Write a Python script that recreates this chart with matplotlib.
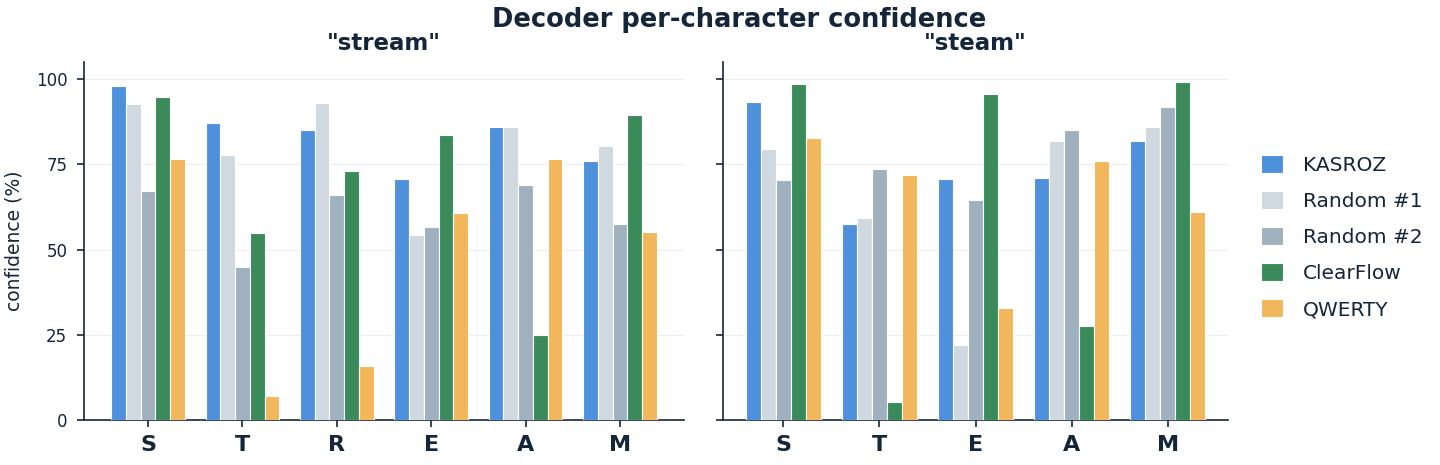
import matplotlib
matplotlib.use("Agg")
import matplotlib.pyplot as plt
import numpy as np

# values
series = ["KASROZ", "Random #1", "Random #2", "ClearFlow", "QWERTY"]
colors = ["#4f90dd", "#d0d8e0", "#9fb0bf", "#3a8a5a", "#f2b75a"]

stream_chars = ["S", "T", "R", "E", "A", "M"]
stream_kasroz = [98.1, 87.0, 85.2, 70.6, 85.8, 76.0]
stream_rand1 = [92.7, 77.6, 92.9, 54.3, 85.8, 80.4]
stream_rand2 = [67.2, 44.8, 65.9, 56.6, 68.9, 57.4]
stream_clearflow = [94.6, 54.9, 73.0, 83.7, 24.9, 89.5]
stream_qwerty = [76.6, 7.0, 15.8, 60.7, 76.6, 55.0]

steam_chars = ["S", "T", "E", "A", "M"]
steam_kasroz = [93.3, 57.5, 70.8, 71.0, 81.9]
steam_rand1 = [79.4, 59.2, 21.9, 81.9, 85.8]
steam_rand2 = [70.3, 73.7, 64.6, 85.1, 91.7]
steam_clearflow = [98.5, 5.3, 95.6, 27.7, 99.0]
steam_qwerty = [82.6, 71.8, 32.8, 76.0, 61.1]

ink = "#15263a"
plt.rcParams["font.family"] = ["DejaVu Sans"]
plt.rcParams["text.color"] = ink
plt.rcParams["axes.labelcolor"] = ink
plt.rcParams["xtick.color"] = ink
plt.rcParams["ytick.color"] = ink

fig = plt.figure(figsize=(14.4, 4.65), dpi=100)
ax1 = fig.add_axes([84 / 1440, 45 / 465, 600 / 1440, 358 / 465])
ax2 = fig.add_axes([723 / 1440, 45 / 465, 505 / 1440, 358 / 465], sharey=ax1)

bw = 0.156


def draw(ax, chars, data, title):
    x = np.arange(len(chars))
    for i, (vals, c, name) in enumerate(zip(data, colors, series)):
        ax.bar(x + (i - 2) * bw, vals, bw, color=c, edgecolor="white",
               linewidth=0.8, label=name, zorder=3)
    ax.set_xticks(x)
    ax.set_xticklabels(chars, fontsize=16, fontweight="bold")
    ax.set_title(title, fontsize=16.5, fontweight="bold", pad=9)
    ax.set_ylim(0, 105)
    ax.set_yticks([0, 25, 50, 75, 100])
    ax.grid(axis="y", color="#eeeeee", linewidth=0.8, zorder=0)
    for s in ["top", "right"]:
        ax.spines[s].set_visible(False)
    for s in ["left", "bottom"]:
        ax.spines[s].set_color(ink)
        ax.spines[s].set_linewidth(1.2)
    ax.tick_params(axis="y", labelsize=12, length=5, width=1.2, pad=7)
    ax.tick_params(axis="x", labelsize=16, length=5, width=1.2, pad=6)


draw(ax1, stream_chars,
     [stream_kasroz, stream_rand1, stream_rand2, stream_clearflow, stream_qwerty],
     '"stream"')
draw(ax2, steam_chars,
     [steam_kasroz, steam_rand1, steam_rand2, steam_clearflow, steam_qwerty],
     '"steam"')
ax2.tick_params(axis="y", labelleft=False)
ax1.set_ylabel("confidence (%)", fontsize=13.5, labelpad=9)

handles, labels = ax1.get_legend_handles_labels()
fig.legend(handles, labels, loc="center left", bbox_to_anchor=(0.863, 0.49),
           frameon=False, fontsize=14.5, handlelength=1.1, handleheight=1.0,
           labelspacing=0.8, handletextpad=1.0)

fig.suptitle("Decoder per-character confidence", fontsize=18.5, fontweight="bold",
             x=0.513, y=0.985)

fig.savefig("out.png", dpi=100)
